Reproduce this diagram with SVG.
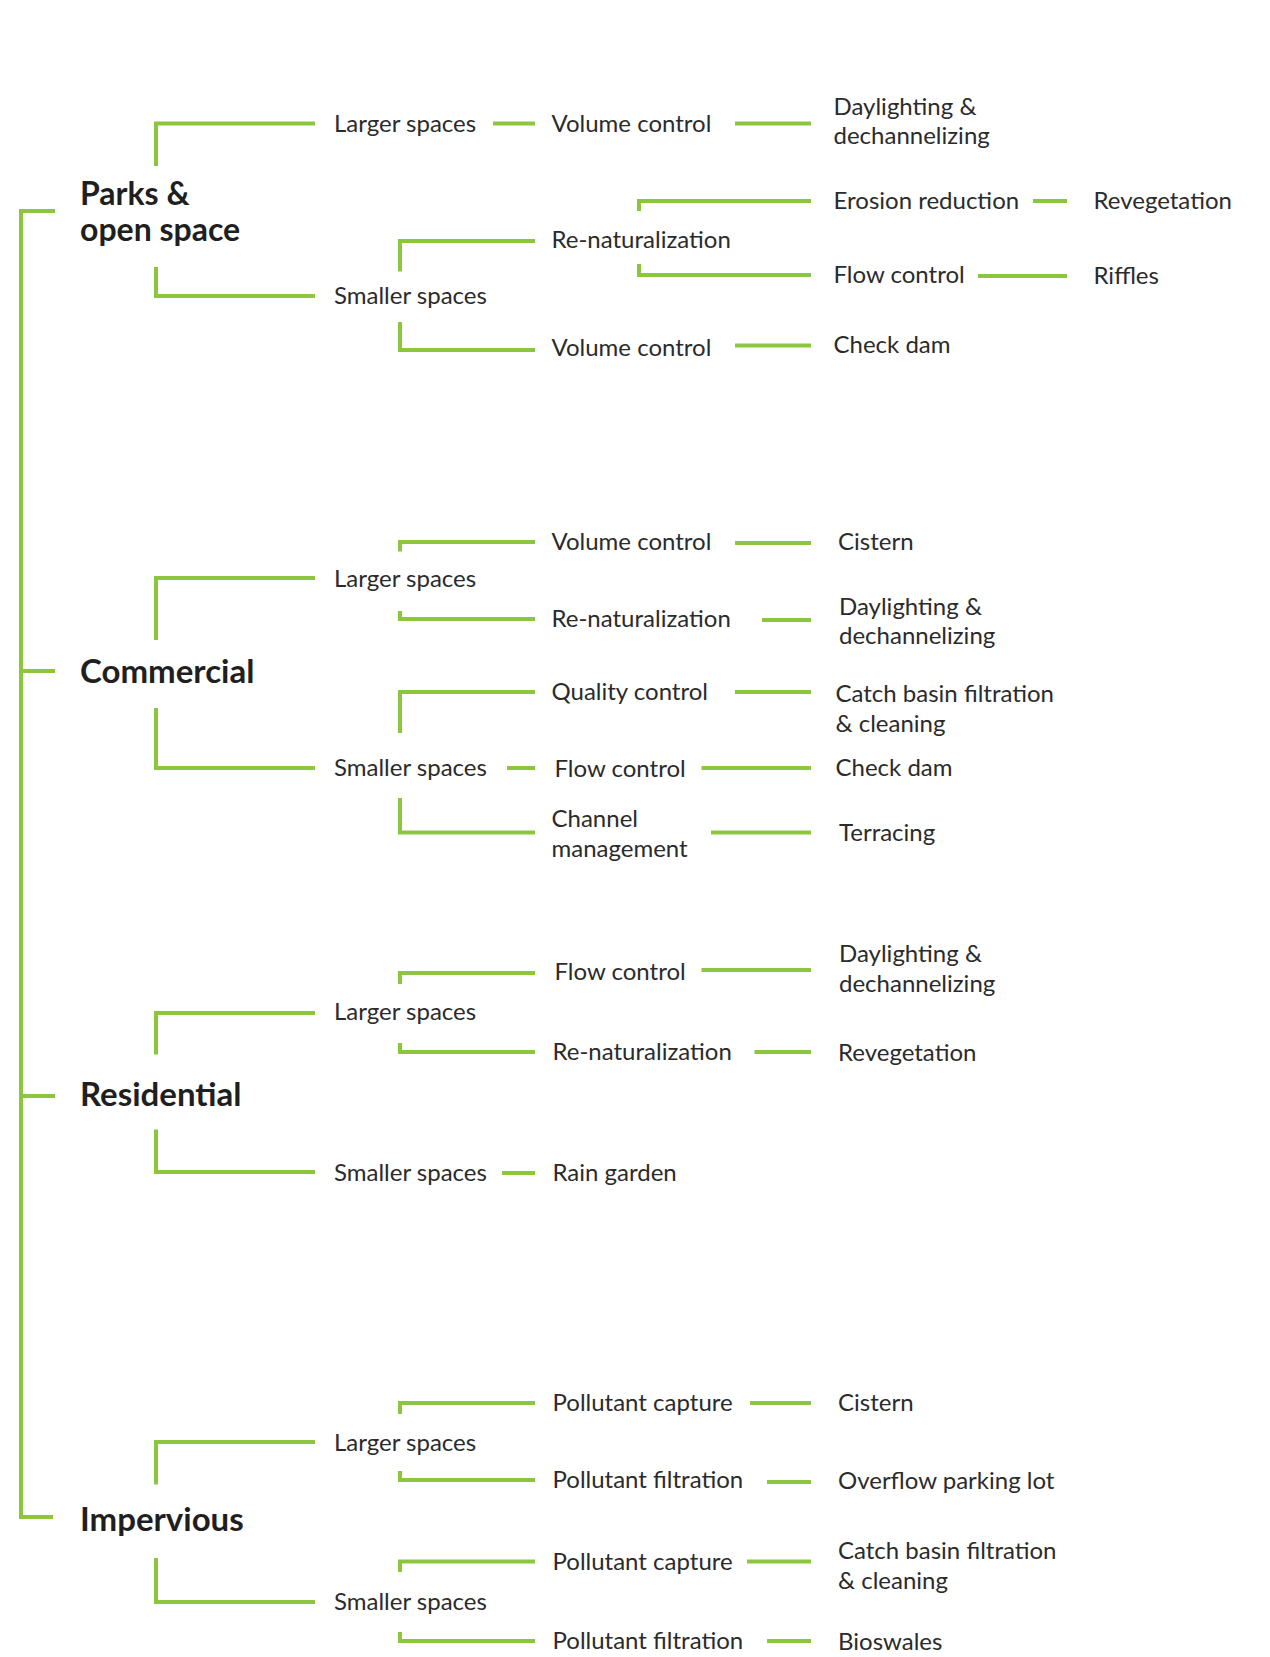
<svg xmlns="http://www.w3.org/2000/svg" width="1270" height="1657" viewBox="0 0 1270 1657">
<style>
.c{fill:none;stroke:#8cc63f;stroke-width:4}
.t{font-family:Lato,"Open Sans","Liberation Sans",sans-serif;font-size:24px;fill:#2b2b2b}
.h{font-family:Lato,"Open Sans","Liberation Sans",sans-serif;font-size:32px;font-weight:bold;fill:#1f1f1f}
.h2{font-size:33px}
</style>
<rect width="1270" height="1657" fill="#fff"/>
<g id="connectors">
<path class="c" d="M55,211 H21 V1517 H53"/>
<path class="c" d="M21,671 H55"/>
<path class="c" d="M21,1096 H55"/>
<path class="c" d="M156,166 V123.5 H315"/>
<path class="c" d="M156,267 V296 H315"/>
<path class="c" d="M493,123.5 H535"/>
<path class="c" d="M735,123.5 H811"/>
<path class="c" d="M400,271.5 V241 H535"/>
<path class="c" d="M400,322 V350 H535"/>
<path class="c" d="M639,211 V201 H811"/>
<path class="c" d="M639,264 V275 H811"/>
<path class="c" d="M1033,201 H1067"/>
<path class="c" d="M978,276 H1067"/>
<path class="c" d="M735,345.5 H811"/>
<path class="c" d="M156,640 V578 H315"/>
<path class="c" d="M156,708 V768 H315"/>
<path class="c" d="M400,551.5 V542 H535"/>
<path class="c" d="M400,611 V619 H535"/>
<path class="c" d="M735,543 H811"/>
<path class="c" d="M762,620 H811"/>
<path class="c" d="M400,733 V692 H535"/>
<path class="c" d="M507,768 H535"/>
<path class="c" d="M400,798 V832.5 H535"/>
<path class="c" d="M735,692 H811"/>
<path class="c" d="M701.5,768 H811"/>
<path class="c" d="M711,832.5 H811"/>
<path class="c" d="M156,1054.5 V1013 H315"/>
<path class="c" d="M156,1129.5 V1172 H315"/>
<path class="c" d="M400,984 V973 H535"/>
<path class="c" d="M400,1043 V1052 H535"/>
<path class="c" d="M701.5,970 H811"/>
<path class="c" d="M754.5,1052 H811"/>
<path class="c" d="M502,1173 H535"/>
<path class="c" d="M156,1484.5 V1442 H315"/>
<path class="c" d="M156,1558 V1602 H315"/>
<path class="c" d="M400,1414 V1403 H535"/>
<path class="c" d="M400,1471 V1480 H535"/>
<path class="c" d="M750,1403 H811"/>
<path class="c" d="M767,1482 H811"/>
<path class="c" d="M400,1572 V1561.5 H535"/>
<path class="c" d="M400,1632 V1641 H535"/>
<path class="c" d="M747,1561.5 H811"/>
<path class="c" d="M767,1641 H811"/>
</g>
<g id="parks">
<text class="h" x="80" y="205">Parks &amp;</text>
<text class="h" x="80" y="241">open space</text>
</g>
<g id="p-larger"><text class="t" x="334" y="131.5">Larger spaces</text></g>
<g id="p-larger-volume"><text class="t" x="551.5" y="131.5">Volume control</text></g>
<g id="p-daylighting"><text class="t" x="833.5" y="114.5">Daylighting &amp;</text><text class="t" x="833.5" y="144">dechannelizing</text></g>
<g id="p-smaller"><text class="t" x="334" y="304">Smaller spaces</text></g>
<g id="p-renat"><text class="t" x="551.5" y="248">Re-naturalization</text></g>
<g id="p-erosion"><text class="t" x="833.5" y="209">Erosion reduction</text></g>
<g id="p-reveg"><text class="t" x="1093.5" y="209">Revegetation</text></g>
<g id="p-flow"><text class="t" x="833.5" y="283">Flow control</text></g>
<g id="p-riffles"><text class="t" x="1093.5" y="284">Riffles</text></g>
<g id="p-smaller-volume"><text class="t" x="551.5" y="355.5">Volume control</text></g>
<g id="p-checkdam"><text class="t" x="833.5" y="352.5">Check dam</text></g>

<g id="commercial"><text class="h h2" x="80" y="683">Commercial</text></g>
<g id="c-larger"><text class="t" x="334" y="587">Larger spaces</text></g>
<g id="c-volume"><text class="t" x="551.5" y="550">Volume control</text></g>
<g id="c-cistern"><text class="t" x="838" y="550">Cistern</text></g>
<g id="c-renat"><text class="t" x="551.5" y="627">Re-naturalization</text></g>
<g id="c-daylighting"><text class="t" x="839" y="614.5">Daylighting &amp;</text><text class="t" x="839" y="644">dechannelizing</text></g>
<g id="c-smaller"><text class="t" x="334" y="776">Smaller spaces</text></g>
<g id="c-quality"><text class="t" x="551.5" y="700">Quality control</text></g>
<g id="c-catch"><text class="t" x="835.5" y="702">Catch basin filtration</text><text class="t" x="835.5" y="732">&amp; cleaning</text></g>
<g id="c-flow"><text class="t" x="554.5" y="777">Flow control</text></g>
<g id="c-checkdam"><text class="t" x="835.5" y="776">Check dam</text></g>
<g id="c-channel"><text class="t" x="551.5" y="827">Channel</text><text class="t" x="551.5" y="856.5">management</text></g>
<g id="c-terracing"><text class="t" x="839" y="840.5">Terracing</text></g>

<g id="residential"><text class="h h2" x="80" y="1106">Residential</text></g>
<g id="r-larger"><text class="t" x="334" y="1020">Larger spaces</text></g>
<g id="r-flow"><text class="t" x="554.5" y="980">Flow control</text></g>
<g id="r-daylighting"><text class="t" x="839" y="962">Daylighting &amp;</text><text class="t" x="839" y="991.5">dechannelizing</text></g>
<g id="r-renat"><text class="t" x="552.5" y="1060">Re-naturalization</text></g>
<g id="r-reveg"><text class="t" x="838" y="1061">Revegetation</text></g>
<g id="r-smaller"><text class="t" x="334" y="1180.5">Smaller spaces</text></g>
<g id="r-rain"><text class="t" x="552.5" y="1180.5">Rain garden</text></g>

<g id="impervious"><text class="h h2" x="80" y="1531">Impervious</text></g>
<g id="i-larger"><text class="t" x="334" y="1451">Larger spaces</text></g>
<g id="i-capture1"><text class="t" x="552.5" y="1411">Pollutant capture</text></g>
<g id="i-cistern"><text class="t" x="838" y="1411">Cistern</text></g>
<g id="i-filtration1"><text class="t" x="552.5" y="1488">Pollutant filtration</text></g>
<g id="i-overflow"><text class="t" x="838" y="1489">Overflow parking lot</text></g>
<g id="i-smaller"><text class="t" x="334" y="1610">Smaller spaces</text></g>
<g id="i-capture2"><text class="t" x="552.5" y="1569.5">Pollutant capture</text></g>
<g id="i-catch"><text class="t" x="838" y="1559">Catch basin filtration</text><text class="t" x="838" y="1588.5">&amp; cleaning</text></g>
<g id="i-filtration2"><text class="t" x="552.5" y="1648.5">Pollutant filtration</text></g>
<g id="i-bioswales"><text class="t" x="838" y="1650">Bioswales</text></g>
</svg>
